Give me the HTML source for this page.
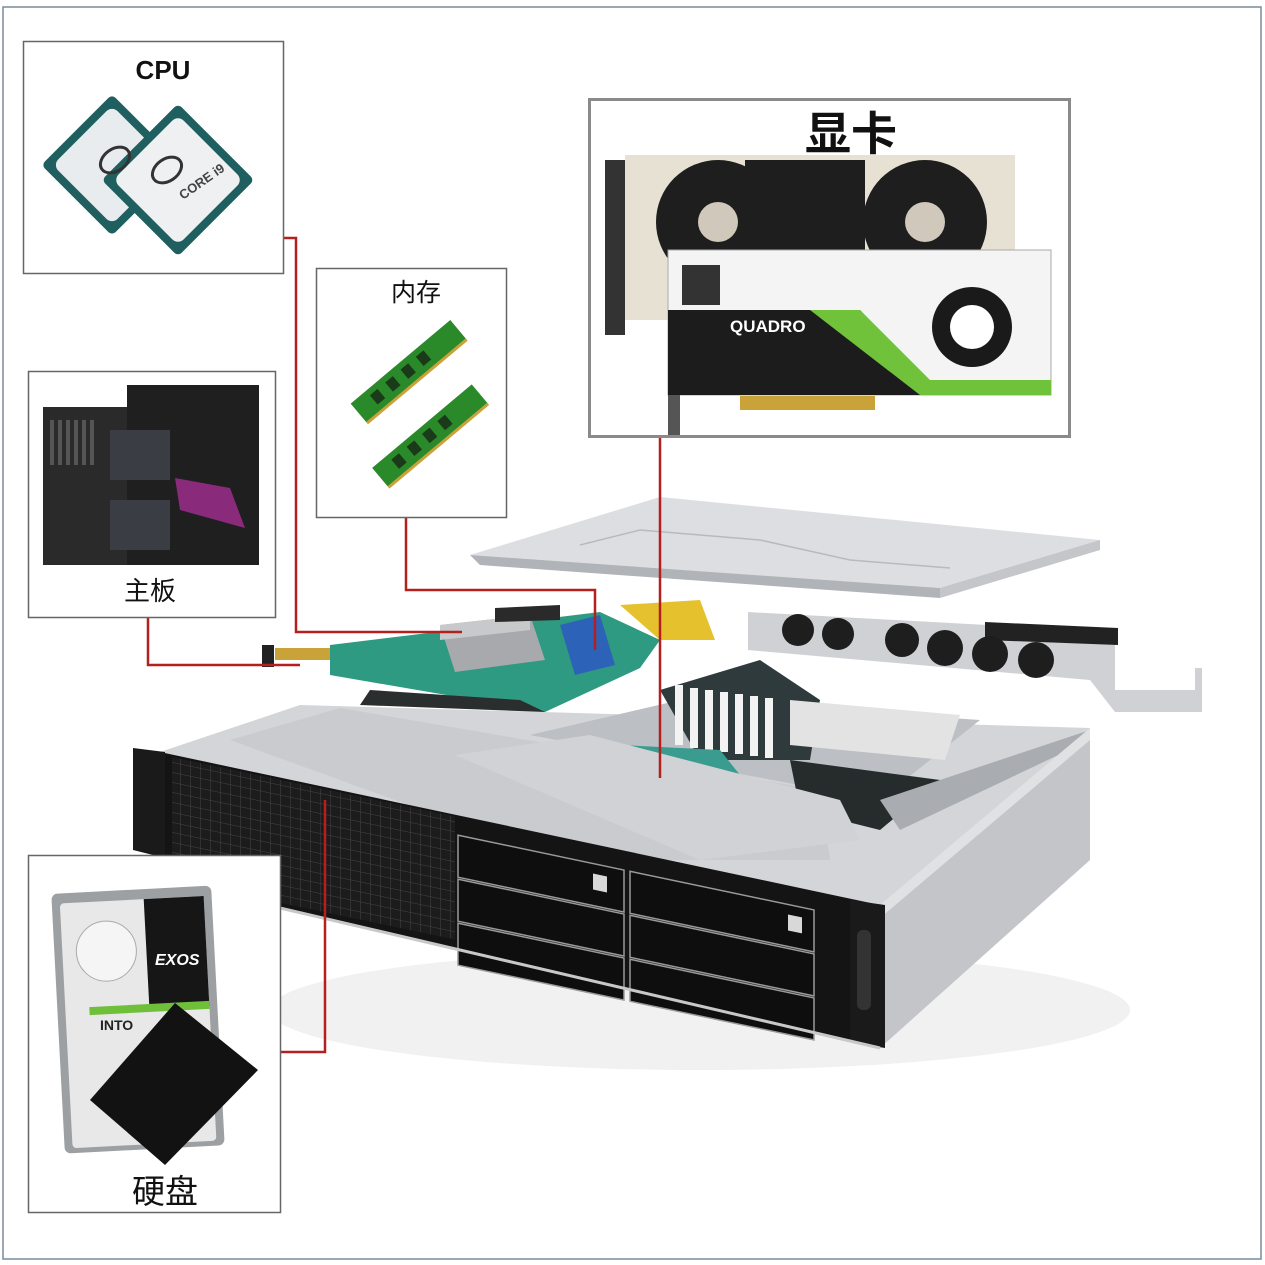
<!DOCTYPE html>
<html><head><meta charset="utf-8"><style>
html,body{margin:0;padding:0;background:#fff}
body{width:1265px;height:1265px;position:relative;overflow:hidden;font-family:"Liberation Sans","Noto Sans CJK SC",sans-serif}
</style></head><body>
<svg width="1265" height="1265" viewBox="0 0 1265 1265" xmlns="http://www.w3.org/2000/svg" style="position:absolute;left:0;top:0">
<defs>
<pattern id="grid" width="10" height="10" patternUnits="userSpaceOnUse"><rect width="10" height="10" fill="#1c1c1c"/><path d="M10,0 L0,0 0,10" fill="none" stroke="#454545" stroke-width="1"/></pattern>
</defs>
<rect x="3" y="7" width="1258" height="1252" fill="#fff" stroke="#7a8a9a" stroke-width="1.5"/>

<!-- shadow -->
<ellipse cx="700" cy="1010" rx="430" ry="60" fill="#f1f1f1"/>
<!-- top surface -->
<polygon points="160,752 300,705 1090,728 880,905" fill="#d3d5d8"/>
<polygon points="230,740 340,708 820,790 830,860 560,860" fill="#c9cbcf"/>
<polygon points="530,735 680,700 980,720 880,800" fill="#bcbfc3"/>
<polygon points="660,690 760,660 820,700 810,760 700,760" fill="#2f3a3c"/>
<g fill="#f3f3f3"><rect x="675" y="685" width="8" height="60"/><rect x="690" y="688" width="8" height="60"/><rect x="705" y="690" width="8" height="60"/><rect x="720" y="692" width="8" height="60"/><rect x="735" y="694" width="8" height="60"/><rect x="750" y="696" width="8" height="60"/><rect x="765" y="698" width="8" height="60"/></g>
<polygon points="790,700 960,715 945,760 790,745" fill="#e3e3e3"/>
<polygon points="790,760 940,780 880,830 800,810" fill="#262b2c"/>
<polygon points="620,745 720,750 740,775 640,770" fill="#3a9c8e"/>
<polygon points="880,800 1090,730 1090,740 900,830" fill="#a9acb0"/>
<polygon points="455,755 590,735 840,800 860,840 700,860" fill="#d0d2d5"/>
<!-- right side -->
<polygon points="880,905 1090,728 1090,860 880,1048" fill="#c3c5c8"/>
<polygon points="880,905 1090,728 1090,740 880,918" fill="#e0e1e3"/>
<!-- front panel -->
<polygon points="160,752 880,905 880,1048 160,880" fill="#141414"/>
<g transform="matrix(1 0.21 0 1 0 -34)">
<rect x="172" y="755" width="283" height="123" fill="url(#grid)"/>
</g>
<!-- drive bays -->
<g transform="matrix(1 0.21 0 1 0 -34)" fill="#0e0e0e" stroke="#9a9a9a" stroke-width="1.5">
<rect x="458" y="773" width="166" height="42"/><rect x="458" y="817" width="166" height="42"/><rect x="458" y="861" width="166" height="42"/>
<rect x="630" y="773" width="184" height="42"/><rect x="630" y="817" width="184" height="42"/><rect x="630" y="861" width="184" height="42"/>
</g>
<g transform="matrix(1 0.21 0 1 0 -34)" fill="#d8d8d8"><rect x="593" y="783" width="14" height="16"/><rect x="788" y="783" width="14" height="16"/></g>
<!-- ears -->
<polygon points="133,748 165,752 165,858 133,850" fill="#1a1a1a"/>
<polygon points="850,900 885,905 885,1048 850,1042" fill="#1a1a1a"/>
<rect x="857" y="930" width="14" height="80" rx="6" fill="#333"/>
<line x1="160" y1="880" x2="880" y2="1048" stroke="#c8c8c8" stroke-width="3"/>

<!-- motherboard floating -->
<polygon points="330,645 600,612 660,640 640,668 545,712 330,675" fill="#2e9a82"/>
<polygon points="440,625 530,615 545,660 455,672" fill="#a7a9ac"/>
<polygon points="440,625 530,615 530,630 440,640" fill="#c8c9cb"/>
<polygon points="560,625 600,615 615,665 575,675" fill="#2c63b8"/>
<polygon points="620,605 700,600 715,640 660,640" fill="#e6c12e"/>
<polygon points="495,608 560,605 560,620 495,622" fill="#2a2a2a"/>
<rect x="275" y="648" width="55" height="12" fill="#c9a23a"/>
<rect x="262" y="645" width="12" height="22" fill="#222"/>
<polygon points="370,690 520,700 545,712 360,705" fill="#2a2e2f"/>

<!-- top cover -->
<polygon points="470,555 660,497 1100,540 1060,560 940,588" fill="#dcdee1"/>
<polygon points="470,555 940,588 940,598 480,565" fill="#b0b3b7"/>
<polygon points="940,588 1100,540 1100,550 940,598" fill="#c4c6c9"/>
<path d="M580,545 L640,530 L760,540 L850,560 L950,568" stroke="#b8babd" fill="none" stroke-width="1.5"/>
<!-- fan bar -->
<polygon points="748,612 1115,632 1115,690 1195,690 1195,668 1202,668 1202,712 1115,712 1090,680 748,650" fill="#cfd1d4"/>
<polygon points="985,622 1118,628 1118,645 985,640" fill="#222"/>
<g fill="#1e1e1e"><circle cx="798" cy="630" r="16"/><circle cx="838" cy="634" r="16"/><circle cx="902" cy="640" r="17"/><circle cx="945" cy="648" r="18"/><circle cx="990" cy="654" r="18"/><circle cx="1036" cy="660" r="18"/></g>

<!-- connectors -->
<g stroke="#b3201f" stroke-width="2.5" fill="none">
<polyline points="284,238 296,238 296,632 462,632"/>
<polyline points="148,618 148,665 300,665"/>
<polyline points="406,518 406,590 595,590 595,650"/>
<line x1="660" y1="437" x2="660" y2="778"/>
<polyline points="281,1052 325,1052 325,800"/>
</g>

<!-- boxes -->
<rect x="23.5" y="41.5" width="260" height="232" fill="#fff" stroke="#666" stroke-width="1.5"/>
<rect x="28.5" y="371.5" width="247" height="246" fill="#fff" stroke="#666" stroke-width="1.5"/>
<rect x="316.5" y="268.5" width="190" height="249" fill="#fff" stroke="#666" stroke-width="1.5"/>
<rect x="589.5" y="99.5" width="480" height="337" fill="#fff" stroke="#8a8a8a" stroke-width="3"/>
<rect x="28.5" y="855.5" width="252" height="357" fill="#fff" stroke="#666" stroke-width="1.5"/>

<!-- CPU -->
<g transform="rotate(45 112 165)"><rect x="62" y="115" width="100" height="100" rx="5" fill="#1f5f5f"/><rect x="70" y="123" width="84" height="84" rx="8" fill="#e9ecee"/></g>
<g transform="rotate(45 178 180)"><rect x="124" y="126" width="108" height="108" rx="5" fill="#1f5f5f"/><rect x="132" y="134" width="92" height="92" rx="8" fill="#eef0f2"/></g>
<ellipse cx="115" cy="160" rx="16" ry="11" fill="none" stroke="#333" stroke-width="3" transform="rotate(-35 115 160)"/>
<ellipse cx="167" cy="170" rx="16" ry="11" fill="none" stroke="#333" stroke-width="3" transform="rotate(-35 167 170)"/>
<text x="183" y="200" font-size="13" font-weight="bold" fill="#444" transform="rotate(-35 183 200)">CORE i9</text>

<!-- motherboard image -->
<rect x="43" y="407" width="137" height="158" fill="#2a2a2a"/>
<rect x="127" y="385" width="132" height="180" fill="#1f1f1f"/>
<rect x="110" y="430" width="60" height="50" fill="#3b3d44"/><rect x="110" y="500" width="60" height="50" fill="#3b3d44"/>
<g fill="#555"><rect x="50" y="420" width="4" height="45"/><rect x="58" y="420" width="4" height="45"/><rect x="66" y="420" width="4" height="45"/><rect x="74" y="420" width="4" height="45"/><rect x="82" y="420" width="4" height="45"/><rect x="90" y="420" width="4" height="45"/></g>
<polygon points="175,478 230,488 245,528 180,510" fill="#8a2a7a"/>

<!-- RAM -->
<g transform="rotate(-40 405 375)"><rect x="345" y="362" width="130" height="26" fill="#2a8a2a"/><rect x="345" y="386" width="130" height="3" fill="#c9a23a"/><g fill="#1a3a1a"><rect x="365" y="368" width="10" height="12"/><rect x="385" y="368" width="10" height="12"/><rect x="405" y="368" width="10" height="12"/><rect x="425" y="368" width="10" height="12"/></g></g>
<g transform="rotate(-40 428 438)"><rect x="366" y="425" width="130" height="26" fill="#2a8a2a"/><rect x="366" y="449" width="130" height="3" fill="#c9a23a"/><g fill="#1a3a1a"><rect x="386" y="431" width="10" height="12"/><rect x="406" y="431" width="10" height="12"/><rect x="426" y="431" width="10" height="12"/><rect x="446" y="431" width="10" height="12"/></g></g>

<!-- GPU -->
<rect x="605" y="160" width="20" height="175" fill="#333"/>
<rect x="625" y="155" width="390" height="165" fill="#e6e1d3"/>
<rect x="745" y="160" width="120" height="155" fill="#1e1e1e"/>
<circle cx="718" cy="222" r="62" fill="#1e1e1e"/><circle cx="718" cy="222" r="20" fill="#cfc8bb"/>
<circle cx="925" cy="222" r="62" fill="#1e1e1e"/><circle cx="925" cy="222" r="20" fill="#cfc8bb"/>
<rect x="668" y="250" width="383" height="145" fill="#f4f4f4" stroke="#aaa"/>
<polygon points="668,310 860,310 940,395 668,395" fill="#1c1c1c"/>
<polygon points="810,310 860,310 930,380 1051,380 1051,395 920,395" fill="#6fc23a"/>
<circle cx="972" cy="327" r="40" fill="#1a1a1a"/><circle cx="972" cy="327" r="22" fill="#fff"/>
<rect x="682" y="265" width="38" height="40" fill="#333"/>
<text x="730" y="332" font-size="17" font-weight="bold" fill="#fff">QUADRO</text>
<rect x="740" y="396" width="135" height="14" fill="#c9a23a"/>
<rect x="668" y="395" width="12" height="40" fill="#555"/>

<!-- HDD -->
<g transform="rotate(-3 130 1020)"><rect x="58" y="890" width="160" height="260" rx="6" fill="#9da0a3"/><rect x="66" y="900" width="144" height="245" rx="4" fill="#e8e8e8"/><rect x="150" y="900" width="60" height="110" fill="#161616"/><rect x="90" y="1005" width="120" height="8" fill="#6fbf3a"/><circle cx="110" cy="950" r="30" fill="#f5f5f5" stroke="#aaa"/></g>
<text x="100" y="1030" font-size="14" font-weight="bold" fill="#222">INTO</text>
<text x="155" y="965" font-size="16" font-weight="bold" font-style="italic" fill="#fff">EXOS</text>
<polygon points="90,1100 175,1003 258,1070 165,1165" fill="#121212"/>

<!-- labels -->
<text x="163" y="79" font-size="26" font-weight="bold" text-anchor="middle" fill="#111">CPU</text>
<text x="416" y="301" font-size="25" text-anchor="middle" fill="#111">内存</text>
<text x="150" y="600" font-size="26" text-anchor="middle" fill="#111">主板</text>
<text x="851" y="150" font-size="46" font-weight="bold" text-anchor="middle" fill="#111">显卡</text>
<text x="165" y="1203" font-size="33" text-anchor="middle" fill="#111">硬盘</text>
</svg>
</body></html>
